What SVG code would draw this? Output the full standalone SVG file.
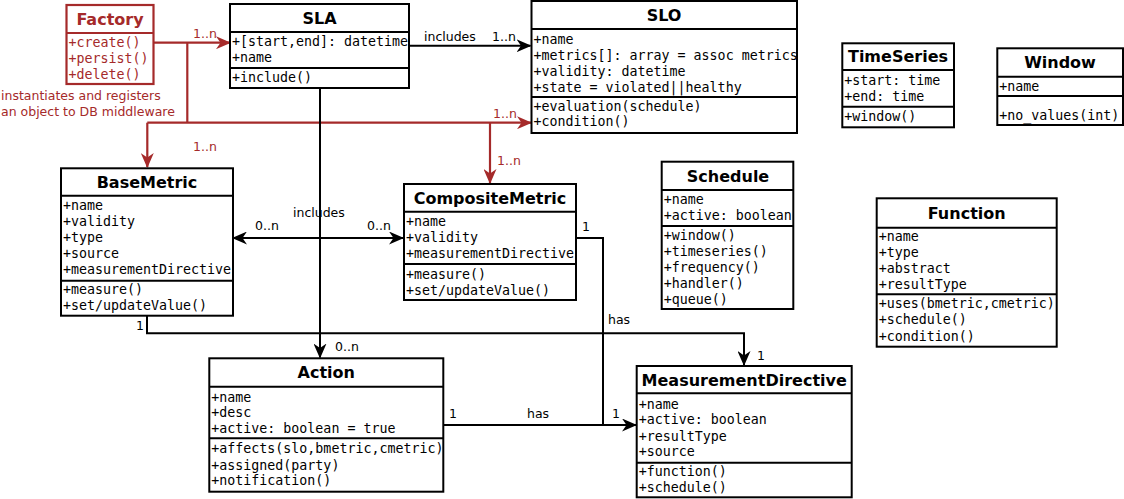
<svg xmlns="http://www.w3.org/2000/svg" width="1124" height="499" viewBox="0 0 1124 499">
<style>
.box{fill:#fff;stroke:#000;stroke-width:2}
.div{stroke:#000;stroke-width:2}
.rbox{fill:#fff;stroke:#a52a2a;stroke-width:2.2}
.rdiv{stroke:#a52a2a;stroke-width:2.2}
.title{font-family:"DejaVu Sans",sans-serif;font-weight:bold;font-size:16px;text-anchor:middle;fill:#000}
.mono{font-family:"DejaVu Sans Mono","Liberation Mono",monospace;font-size:13.3px;fill:#000}
.lbl{font-family:"DejaVu Sans",sans-serif;font-size:12.5px;fill:#000}
.red{fill:#a52a2a}
.conn{fill:none;stroke:#000;stroke-width:2}
.rconn{fill:none;stroke:#a52a2a;stroke-width:2.2}
</style>
<defs>
<marker id="ah" markerUnits="userSpaceOnUse" markerWidth="15" markerHeight="13" refX="14" refY="6.5" orient="auto-start-reverse" viewBox="0 0 15 13">
<path d="M0,0 L15,6.5 L0,13 L4.5,6.5 z" fill="#000"/>
</marker>
<marker id="rah" markerUnits="userSpaceOnUse" markerWidth="15" markerHeight="13" refX="14" refY="6.5" orient="auto" viewBox="0 0 15 13">
<path d="M0,0 L15,6.5 L0,13 L4.5,6.5 z" fill="#a52a2a"/>
</marker>
</defs>

<g id="connectors">
<polyline class="rconn" points="154,42.7 230,42.7" marker-end="url(#rah)"/>
<polyline class="rconn" points="187.3,42.7 187.3,122.7"/>
<polyline class="rconn" points="147.3,122.7 531,122.7" marker-end="url(#rah)"/>
<polyline class="rconn" points="147.3,122.7 147.3,167" marker-end="url(#rah)"/>
<polyline class="rconn" points="490,122.7 490,183" marker-end="url(#rah)"/>
<polyline class="conn" points="409,45.7 530.5,45.7" marker-end="url(#ah)"/>
<polyline class="conn" points="320,88 320,357.5" marker-end="url(#ah)"/>
<polyline class="conn" points="233,238 403,238" marker-start="url(#ah)" marker-end="url(#ah)"/>
<polyline class="conn" points="147,316 147,333.3 744,333.3 744,365" marker-end="url(#ah)"/>
<polyline class="conn" points="576,238 603,238 603,425"/>
<polyline class="conn" points="443.5,425 636,425" marker-end="url(#ah)"/>
<text class="lbl red" x="193" y="38">1..n</text>
<text class="lbl red" x="193" y="151">1..n</text>
<text class="lbl red" x="493" y="118">1..n</text>
<text class="lbl red" x="497" y="165">1..n</text>
<text class="lbl red" x="1" y="100">instantiates and registers</text>
<text class="lbl red" x="1" y="115.5">an object to DB middleware</text>
<text class="lbl" x="424" y="40.5">includes</text>
<text class="lbl" x="492" y="40.5">1..n</text>
<text class="lbl" x="293" y="216.5">includes</text>
<text class="lbl" x="255" y="229.5">0..n</text>
<text class="lbl" x="367" y="229.5">0..n</text>
<text class="lbl" x="335" y="351">0..n</text>
<text class="lbl" x="136" y="330">1</text>
<text class="lbl" x="757" y="360">1</text>
<text class="lbl" x="582" y="231">1</text>
<text class="lbl" x="608" y="323.5">has</text>
<text class="lbl" x="449" y="418">1</text>
<text class="lbl" x="527" y="418">has</text>
<text class="lbl" x="612" y="418">1</text>
</g>

<g id="Factory">
<rect class="rbox" x="66.5" y="5" width="87" height="79"/>
<line class="rdiv" x1="66.5" y1="33" x2="153.5" y2="33"/>
<text class="title red" x="110" y="24.5">Factory</text>
<text class="mono red" x="68.5" y="47.2">+create()</text>
<text class="mono red" x="68.5" y="62.8">+persist()</text>
<text class="mono red" x="68.5" y="78.5">+delete()</text>
</g>

<g id="SLA">
<rect class="box" x="230" y="4" width="179" height="84"/>
<line class="div" x1="230" y1="32" x2="409" y2="32"/>
<line class="div" x1="230" y1="68" x2="409" y2="68"/>
<text class="title" x="319.5" y="23.5">SLA</text>
<text class="mono" x="232" y="46.2">+[start,end]: datetime</text>
<text class="mono" x="232" y="62.2">+name</text>
<text class="mono" x="232" y="82.2">+include()</text>
</g>

<g id="SLO">
<rect class="box" x="531.5" y="1" width="265.5" height="132"/>
<line class="div" x1="531.5" y1="29" x2="797" y2="29"/>
<line class="div" x1="531.5" y1="97" x2="797" y2="97"/>
<text class="title" x="664" y="20.5">SLO</text>
<text class="mono" x="533.5" y="43.5">+name</text>
<text class="mono" x="533.5" y="59.5">+metrics[]: array = assoc metrics</text>
<text class="mono" x="533.5" y="75.5">+validity: datetime</text>
<text class="mono" x="533.5" y="91.5">+state = violated||healthy</text>
<text class="mono" x="533.5" y="110.5">+evaluation(schedule)</text>
<text class="mono" x="533.5" y="126.2">+condition()</text>
</g>

<g id="TimeSeries">
<rect class="box" x="842.3" y="43.3" width="111.7" height="84"/>
<line class="div" x1="842.3" y1="70" x2="954" y2="70"/>
<line class="div" x1="842.3" y1="106.7" x2="954" y2="106.7"/>
<text class="title" x="898" y="62">TimeSeries</text>
<text class="mono" x="844.3" y="84.5">+start: time</text>
<text class="mono" x="844.3" y="101.2">+end: time</text>
<text class="mono" x="844.3" y="121.2">+window()</text>
</g>

<g id="Window">
<rect class="box" x="997.3" y="48.3" width="125.7" height="76.7"/>
<line class="div" x1="997.3" y1="76.7" x2="1123" y2="76.7"/>
<line class="div" x1="997.3" y1="96" x2="1123" y2="96"/>
<text class="title" x="1060" y="68">Window</text>
<text class="mono" x="999.3" y="90.5">+name</text>
<text class="mono" x="999.3" y="119.5">+no_values(int)</text>
</g>

<g id="BaseMetric">
<rect class="box" x="61" y="168.3" width="172" height="147.4"/>
<line class="div" x1="61" y1="195.7" x2="233" y2="195.7"/>
<line class="div" x1="61" y1="280.7" x2="233" y2="280.7"/>
<text class="title" x="147" y="187.5">BaseMetric</text>
<text class="mono" x="63" y="210.2">+name</text>
<text class="mono" x="63" y="226.2">+validity</text>
<text class="mono" x="63" y="242.2">+type</text>
<text class="mono" x="63" y="258.2">+source</text>
<text class="mono" x="63" y="273.8">+measurementDirective</text>
<text class="mono" x="63" y="293.8">+measure()</text>
<text class="mono" x="63" y="309.8">+set/updateValue()</text>
</g>

<g id="CompositeMetric">
<rect class="box" x="404" y="184" width="172" height="116"/>
<line class="div" x1="404" y1="211.7" x2="576" y2="211.7"/>
<line class="div" x1="404" y1="264" x2="576" y2="264"/>
<text class="title" x="490" y="203.5">CompositeMetric</text>
<text class="mono" x="406" y="226.2">+name</text>
<text class="mono" x="406" y="242.2">+validity</text>
<text class="mono" x="406" y="258.2">+measurementDirective</text>
<text class="mono" x="406" y="278.5">+measure()</text>
<text class="mono" x="406" y="294.5">+set/updateValue()</text>
</g>

<g id="Schedule">
<rect class="box" x="661.7" y="161.7" width="131.6" height="147.3"/>
<line class="div" x1="661.7" y1="190" x2="793.3" y2="190"/>
<line class="div" x1="661.7" y1="226" x2="793.3" y2="226"/>
<text class="title" x="728" y="181.5">Schedule</text>
<text class="mono" x="663.7" y="203.5">+name</text>
<text class="mono" x="663.7" y="219.5">+active: boolean</text>
<text class="mono" x="663.7" y="239.5">+window()</text>
<text class="mono" x="663.7" y="256.2">+timeseries()</text>
<text class="mono" x="663.7" y="272.2">+frequency()</text>
<text class="mono" x="663.7" y="287.8">+handler()</text>
<text class="mono" x="663.7" y="303.5">+queue()</text>
</g>

<g id="Function">
<rect class="box" x="876.7" y="198.3" width="180" height="148.4"/>
<line class="div" x1="876.7" y1="227.7" x2="1056.7" y2="227.7"/>
<line class="div" x1="876.7" y1="294.3" x2="1056.7" y2="294.3"/>
<text class="title" x="966.7" y="218.5">Function</text>
<text class="mono" x="878.7" y="240.5">+name</text>
<text class="mono" x="878.7" y="256.8">+type</text>
<text class="mono" x="878.7" y="272.8">+abstract</text>
<text class="mono" x="878.7" y="288.8">+resultType</text>
<text class="mono" x="878.7" y="307.8">+uses(bmetric,cmetric)</text>
<text class="mono" x="878.7" y="324.2">+schedule()</text>
<text class="mono" x="878.7" y="340.5">+condition()</text>
</g>

<g id="Action">
<rect class="box" x="209.3" y="358.3" width="234" height="133.4"/>
<line class="div" x1="209.3" y1="386.7" x2="443.3" y2="386.7"/>
<line class="div" x1="209.3" y1="438.3" x2="443.3" y2="438.3"/>
<text class="title" x="326.3" y="378">Action</text>
<text class="mono" x="211.3" y="401.8">+name</text>
<text class="mono" x="211.3" y="417.2">+desc</text>
<text class="mono" x="211.3" y="432.8">+active: boolean = true</text>
<text class="mono" x="211.3" y="452.8">+affects(slo,bmetric,cmetric)</text>
<text class="mono" x="211.3" y="469.5">+assigned(party)</text>
<text class="mono" x="211.3" y="485.2">+notification()</text>
</g>

<g id="MeasurementDirective">
<rect class="box" x="636.7" y="366" width="215" height="131.3"/>
<line class="div" x1="636.7" y1="393.3" x2="851.7" y2="393.3"/>
<line class="div" x1="636.7" y1="462.7" x2="851.7" y2="462.7"/>
<text class="title" x="744.2" y="385.5">MeasurementDirective</text>
<text class="mono" x="638.7" y="408.5">+name</text>
<text class="mono" x="638.7" y="423.8">+active: boolean</text>
<text class="mono" x="638.7" y="440.5">+resultType</text>
<text class="mono" x="638.7" y="456.2">+source</text>
<text class="mono" x="638.7" y="476.2">+function()</text>
<text class="mono" x="638.7" y="491.8">+schedule()</text>
</g>
</svg>
